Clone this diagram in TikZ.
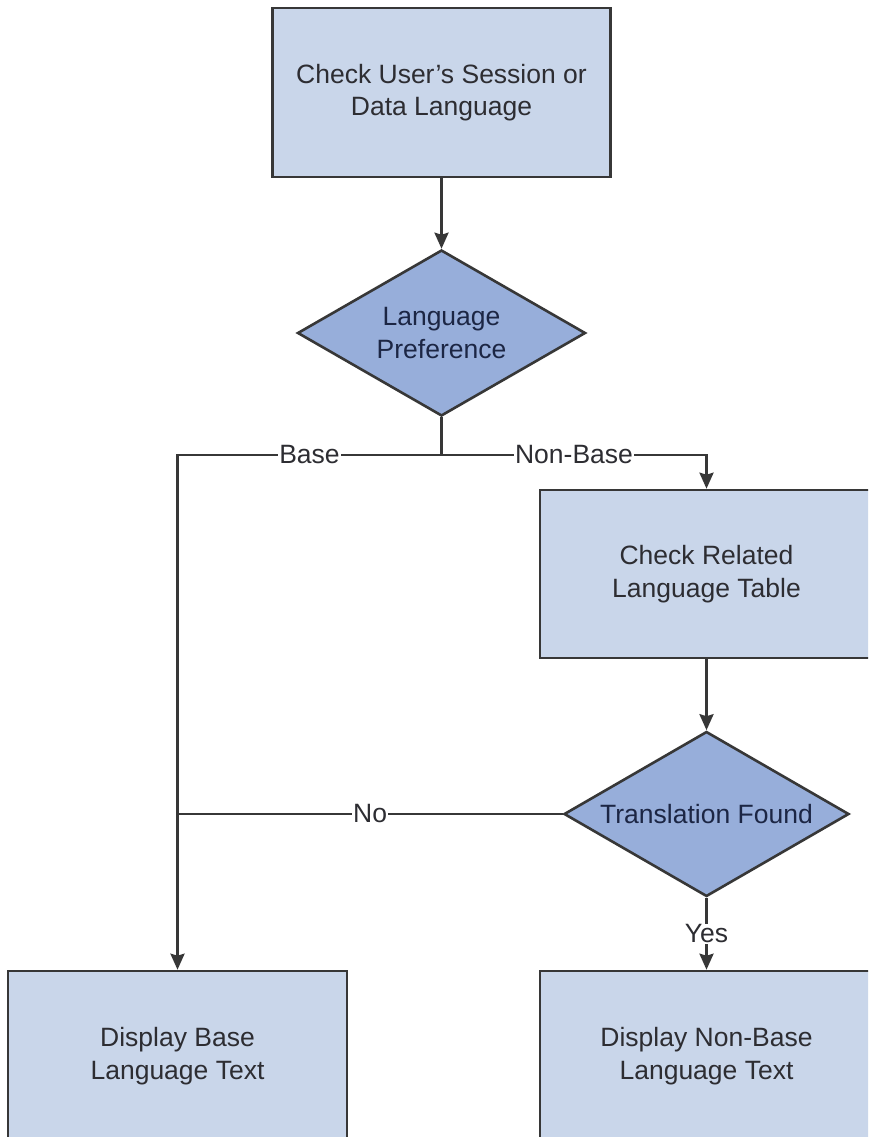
\documentclass[tikz,border=0pt]{standalone}
\usepackage{fontspec}
\setmainfont{Liberation Sans}
\usetikzlibrary{shapes.geometric,arrows.meta}

\definecolor{boxfill}{RGB}{201,214,234}
\definecolor{decfill}{RGB}{151,174,218}
\definecolor{edge}{RGB}{55,55,55}
\definecolor{boxtext}{RGB}{45,45,50}
\definecolor{dectext}{RGB}{28,38,68}

\tikzset{
  every node/.style={font=\fontsize{26.5}{32.5}\selectfont},
  stepbox/.style={draw=edge, fill=boxfill, line width=2.6pt, rectangle,
    inner sep=0pt, align=center, text=boxtext},
  decision/.style={draw=edge, fill=decfill, line width=2.6pt, diamond,
    aspect=1.73, inner sep=0pt, align=center, text=dectext},
  conn/.style={draw=edge, line width=2.6pt},
  arr/.style={conn, -{Stealth[length=16pt,width=14pt,inset=2pt]}},
  lbl/.style={fill=white, inner sep=1pt, text=boxtext}
}

\begin{document}
\begin{tikzpicture}[x=1pt,y=-1pt]
  \clip (0,0) rectangle (868,1137);
  \fill[white] (0,0) rectangle (868,1137);

  % process boxes
  \node[stepbox, minimum width=338pt, minimum height=169pt] (check) at (441.5,92.5)
    {Check User's Session or\\Data Language};
  \node[stepbox, minimum width=333pt, minimum height=168pt] (related) at (706.5,574)
    {Check Related\\Language Table};
  \node[stepbox, minimum width=339pt, minimum height=170pt] (base) at (177.5,1056)
    {Display Base\\Language Text};
  \node[stepbox, minimum width=333pt, minimum height=170pt] (nonbase) at (706.5,1056)
    {Display Non-Base\\Language Text};

  % decisions
  \node[decision, minimum width=288pt, minimum height=166pt] (pref) at (441.5,333)
    {Language\\Preference};
  \node[decision, minimum width=285pt, minimum height=165pt] (found) at (706.5,814)
    {Translation Found};

  % routing points
  \coordinate (split) at (441.5,455);
  \coordinate (nojoin) at (177.5,814);

  % connectors
  \draw[arr] (check.south) -- (pref.north);
  \draw[conn] (pref.south) -- (split);
  \draw[arr] (split) -| node[lbl, pos=0.25] {Base} (base.north);
  \draw[arr] (split) -| node[lbl, pos=0.25] {Non-Base} (related.north);
  \draw[arr] (related.south) -- (found.north);
  \draw[conn] (found.west) -- node[lbl, pos=0.5] {No} (nojoin);
  \draw[arr] (found.south) -- node[lbl, pos=0.5] {Yes} (nonbase.north);
\end{tikzpicture}
\end{document}
